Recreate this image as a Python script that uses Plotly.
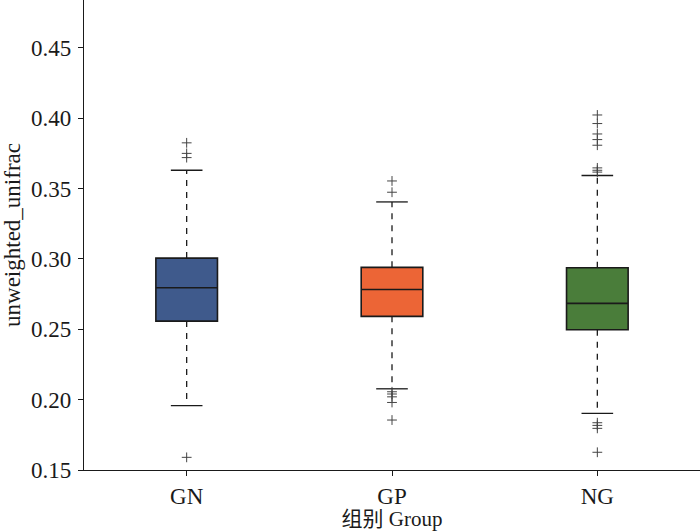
import plotly.graph_objects as go

# groups and box statistics
groups = ['GN', 'GP', 'NG']
colors = ['#3F5A8C', '#EC6536', '#4A7D3A']
q1 = [0.2558, 0.2592, 0.2497]
median = [0.2795, 0.2783, 0.2684]
q3 = [0.3006, 0.2940, 0.2937]
lower_whisker = [0.1957, 0.2077, 0.1903]
upper_whisker = [0.3630, 0.3405, 0.3593]
outliers = [
    [0.3825, 0.3750, 0.3720, 0.1590],
    [0.3554, 0.3474, 0.2056, 0.2040, 0.2020, 0.1980, 0.1855],
    [0.4023, 0.3962, 0.3888, 0.3848, 0.3808, 0.3647, 0.3630, 0.3617,
     0.1836, 0.1817, 0.1796, 0.1626],
]
y_ticks = [0.15, 0.20, 0.25, 0.30, 0.35, 0.40, 0.45]

font = 'Liberation Serif, Times New Roman, Noto Sans CJK SC, serif'
box_w = 0.3
cap_w = 0.077

fig = go.Figure()

for i, g in enumerate(groups):
    fig.add_trace(go.Box(
        x=[i], q1=[q1[i]], median=[median[i]], q3=[q3[i]],
        lowerfence=[q1[i]], upperfence=[q3[i]],
        width=box_w, fillcolor=colors[i],
        line=dict(color='#1a1a1a', width=1.6),
        whiskerwidth=0, boxpoints=False, name=g, showlegend=False,
    ))

    # dashed whiskers
    fig.add_trace(go.Scatter(
        x=[i, i, None, i, i], y=[q3[i], upper_whisker[i], None, q1[i], lower_whisker[i]],
        mode='lines', line=dict(color='#1a1a1a', width=1.3, dash='6px,6px'),
        showlegend=False, hoverinfo='skip',
    ))
    # caps
    fig.add_trace(go.Scatter(
        x=[i - cap_w, i + cap_w, None, i - cap_w, i + cap_w],
        y=[upper_whisker[i], upper_whisker[i], None, lower_whisker[i], lower_whisker[i]],
        mode='lines', line=dict(color='#1a1a1a', width=1.3),
        showlegend=False, hoverinfo='skip',
    ))
    # outliers
    fig.add_trace(go.Scatter(
        x=[i] * len(outliers[i]), y=outliers[i], mode='markers',
        marker=dict(symbol='cross-thin', size=7, line=dict(color='#444444', width=1)),
        showlegend=False,
    ))

fig.update_layout(
    width=700, height=531,
    margin=dict(l=84, r=0, t=0, b=61, pad=0),
    plot_bgcolor='white', paper_bgcolor='white',
    font=dict(family=font, size=23, color='#1a1a1a'),
    xaxis=dict(
        range=[-0.5, 2.5], tickvals=[0, 1, 2], ticktext=groups,
        showline=True, linecolor='#1a1a1a', linewidth=1.3,
        ticks='outside', ticklen=5, tickcolor='#1a1a1a',
        showgrid=False, zeroline=False, automargin=False,
        title=dict(text='组别 Group', standoff=0, font=dict(size=21)),
    ),
    yaxis=dict(
        range=[0.15, 0.484], tickvals=y_ticks, tickformat='.2f',
        showline=True, linecolor='#1a1a1a', linewidth=1.3,
        ticks='outside', ticklen=5, tickcolor='#1a1a1a',
        ticklabelstandoff=2,
        showgrid=False, zeroline=False, automargin=False,
        title=dict(text='unweighted_unifrac', standoff=4, font=dict(size=23)),
    ),
)

# drop the browser's default page margin so the figure sits at the corner
fig.write_html('out.html', config={'displayModeBar': False},
               post_script="document.body.style.margin='0';")
